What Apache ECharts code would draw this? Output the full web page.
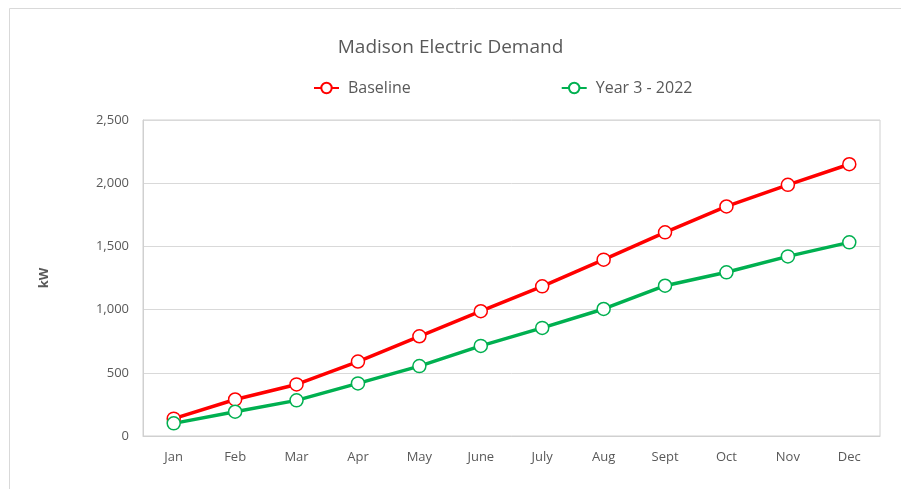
<!DOCTYPE html>
<html>
<head>
<meta charset="utf-8">
<script src="https://cdn.jsdelivr.net/npm/echarts@6/dist/echarts.min.js"></script>
<style>
  html, body { margin: 0; padding: 0; background: #fff; }
  #chart { width: 901px; height: 489px; }
</style>
</head>
<body>
<div id="chart"></div>
<script>
// 月份
var months = ['Jan', 'Feb', 'Mar', 'Apr', 'May', 'June', 'July', 'Aug', 'Sept', 'Oct', 'Nov', 'Dec'];
// 基准线
var baseline = [137, 289, 408, 589, 789, 987, 1184, 1395, 1611, 1816, 1987, 2150];
// 第三年 2022
var year3 = [100, 192, 282, 416, 553, 713, 855, 1005, 1189, 1295, 1421, 1532];
// y 轴刻度
var yTicks = [0, 500, 1000, 1500, 2000, 2500];

var textColor = '#595959';
var fontFamily = 'Open Sans, Liberation Sans, sans-serif';

function lineSerie(name, data, color) {
    return {
        name: name,
        type: 'line',
        data: data,
        symbol: 'circle',
        symbolSize: 13,
        lineStyle: { color: color, width: 3.5 },
        itemStyle: { color: '#fff', borderColor: color, borderWidth: 1.5 },
        emphasis: { disabled: true },
        z: 3
    };
}

var chart = echarts.init(document.getElementById('chart'));
var option = {
    animation: false,
    backgroundColor: '#fff',
    textStyle: { fontFamily: fontFamily },
    title: {
        text: 'Madison Electric Demand',
        left: 'center',
        top: 33,
        textStyle: { color: textColor, fontSize: 19, fontWeight: 'normal', fontFamily: fontFamily }
    },
    legend: {
        left: 313,
        top: 80,
        padding: 0,
        itemWidth: 25,
        itemHeight: 13,
        itemGap: 150,
        textStyle: { color: textColor, fontSize: 16, fontFamily: fontFamily, padding: [0, 0, 0, 4] },
        data: ['Baseline', 'Year 3 - 2022']
    },
    grid: {
        left: 143,
        right: 21,
        top: 120,
        bottom: 53,
        show: true,
        borderColor: '#d0d0d0',
        borderWidth: 1
    },
    xAxis: {
        type: 'category',
        data: months,
        boundaryGap: true,
        axisLine: { lineStyle: { color: '#d0d0d0' } },
        axisTick: { show: false },
        axisLabel: { color: textColor, fontSize: 13, margin: 15, fontFamily: fontFamily }
    },
    yAxis: {
        type: 'value',
        min: yTicks[0],
        max: yTicks[yTicks.length - 1],
        interval: 500,
        name: 'kW',
        nameLocation: 'middle',
        nameGap: 92,
        nameRotate: 90,
        nameTextStyle: { color: textColor, fontSize: 13, fontWeight: 'bold', fontFamily: fontFamily },
        axisLine: { show: true, lineStyle: { color: '#d0d0d0' } },
        axisTick: { show: false },
        splitLine: { lineStyle: { color: '#d9d9d9', width: 1 } },
        axisLabel: {
            color: textColor,
            fontSize: 13,
            margin: 14,
            fontFamily: fontFamily,
            formatter: function (v) { return v.toLocaleString('en-US'); }
        }
    },
    // 外边框
    graphic: [{
        type: 'rect',
        shape: { x: 9.5, y: 8.5, width: 1000, height: 1000 },
        style: { fill: 'none', stroke: '#d9d9d9', lineWidth: 1 },
        silent: true
    }],
    series: [
        lineSerie('Baseline', baseline, '#ff0000'),
        lineSerie('Year 3 - 2022', year3, '#00b050')
    ]
};
chart.setOption(option);
</script>
</body>
</html>
